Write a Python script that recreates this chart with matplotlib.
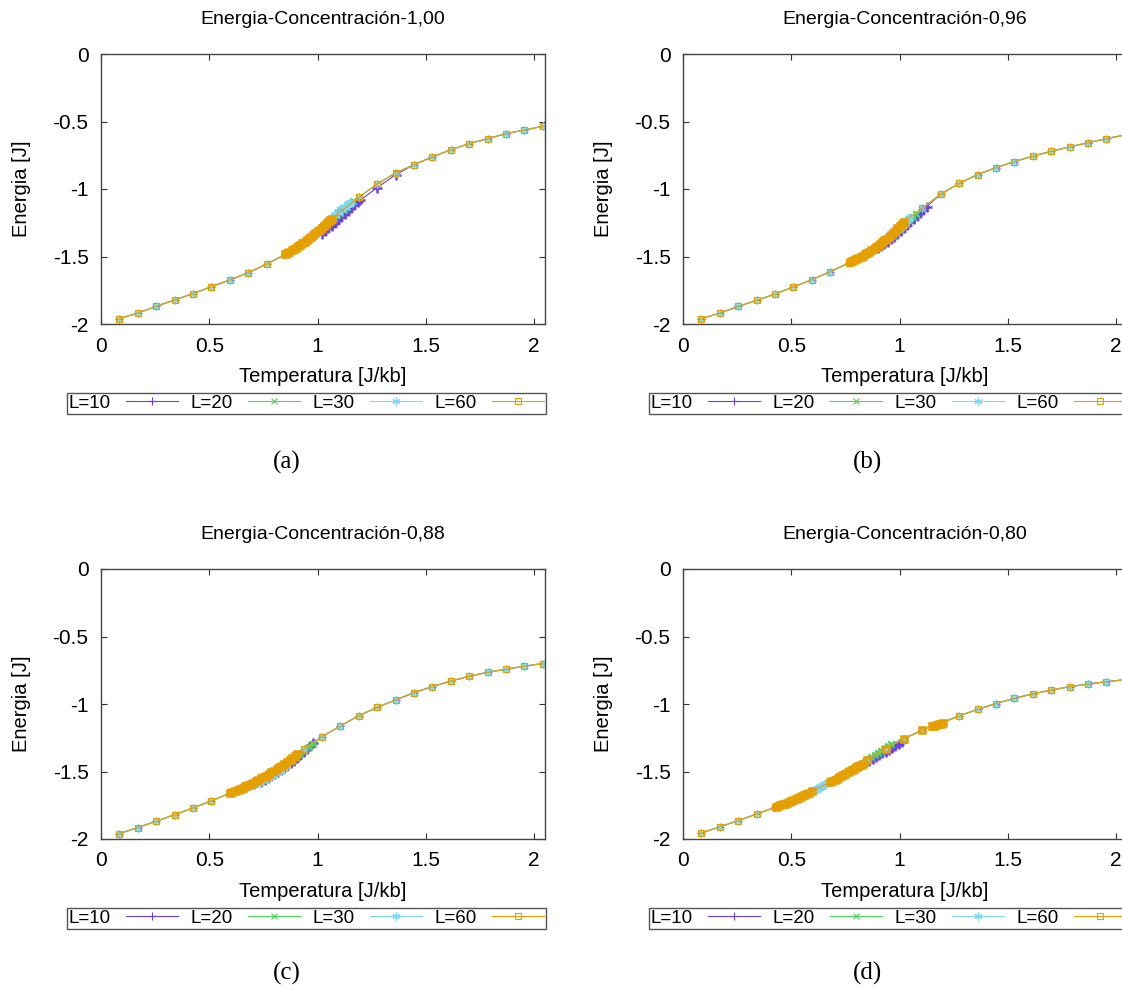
import matplotlib.pyplot as plt
import numpy as np

plt.rcParams['font.family'] = ['Liberation Sans', 'DejaVu Sans']
plt.rcParams['axes.unicode_minus'] = False

# coarse temperature grid shared by every run
temps = [0.085, 0.170, 0.255, 0.340, 0.425, 0.510, 0.595, 0.680, 0.765, 0.850, 0.935, 1.020,
         1.105, 1.190, 1.275, 1.360, 1.445, 1.530, 1.615, 1.700, 1.785, 1.870, 1.955, 2.040]

labels = ['L=10', 'L=20', 'L=30', 'L=60']
titles = ['Energia-Concentración-1,00', 'Energia-Concentración-0,96',
          'Energia-Concentración-0,88', 'Energia-Concentración-0,80']
captions = ['(a)', '(b)', '(c)', '(d)']
xticks = [0, 0.5, 1, 1.5, 2]
xtick_labels = ['0', '0.5', '1', '1.5', '2']
yticks = [0, -0.5, -1, -1.5, -2]
ytick_labels = ['0', '-0.5', '-1', '-1.5', '-2']

# ---- panel (a), concentration 1.00
ener_a = [-1.960, -1.919, -1.869, -1.822, -1.775, -1.723, -1.674, -1.620, -1.556, -1.486, -1.400, -1.300,
          -1.168, -1.062, -0.963, -0.881, -0.820, -0.763, -0.709, -0.664, -0.627, -0.590, -0.563, -0.536]
a_L10_t = [1.020, 1.035, 1.050, 1.065, 1.080, 1.095, 1.110, 1.125, 1.140, 1.155, 1.170, 1.185, 1.195, 1.275, 1.360]
a_L10_e = [-1.330, -1.312, -1.292, -1.271, -1.250, -1.229, -1.208, -1.187, -1.165, -1.143, -1.121, -1.099, -1.085, -0.990, -0.895]
a_L20_t = [1.000, 1.015, 1.030, 1.045, 1.060, 1.075, 1.090, 1.105, 1.120, 1.135, 1.150, 1.165]
a_L20_e = [-1.318, -1.298, -1.278, -1.258, -1.238, -1.217, -1.196, -1.175, -1.154, -1.133, -1.112, -1.092]
a_L30_t = [0.990, 1.005, 1.020, 1.035, 1.050, 1.065, 1.080, 1.095, 1.110, 1.125, 1.140, 1.150]
a_L30_e = [-1.320, -1.300, -1.279, -1.258, -1.236, -1.214, -1.192, -1.170, -1.149, -1.130, -1.112, -1.100]
a_L60_t = [0.850, 0.860, 0.870, 0.880, 0.890, 0.900, 0.910, 0.920, 0.930, 0.940, 0.950, 0.960, 0.970, 0.980,
           0.990, 1.000, 1.010, 1.020, 1.030, 1.040, 1.050, 1.058, 1.065]
a_L60_e = [-1.484, -1.475, -1.465, -1.455, -1.445, -1.435, -1.424, -1.413, -1.401, -1.390, -1.378, -1.366, -1.353, -1.340,
           -1.327, -1.314, -1.300, -1.287, -1.273, -1.259, -1.244, -1.233, -1.222]

# ---- panel (b), concentration 0.96
ener_b = [-1.960, -1.920, -1.870, -1.825, -1.778, -1.725, -1.672, -1.612, -1.548, -1.472, -1.378, -1.262,
          -1.142, -1.038, -0.958, -0.893, -0.842, -0.797, -0.757, -0.721, -0.688, -0.657, -0.627, -0.600]
b_L10_t = [0.900, 0.915, 0.930, 0.945, 0.960, 0.975, 0.990, 1.005, 1.020, 1.035, 1.050, 1.065, 1.080, 1.095, 1.110, 1.125]
b_L10_e = [-1.440, -1.424, -1.407, -1.390, -1.372, -1.353, -1.333, -1.312, -1.290, -1.268, -1.245, -1.222, -1.199, -1.176, -1.153, -1.131]
b_L20_t = [0.880, 0.895, 0.910, 0.925, 0.940, 0.955, 0.970, 0.985, 1.000, 1.015, 1.030, 1.045, 1.060, 1.075]
b_L20_e = [-1.446, -1.430, -1.413, -1.395, -1.377, -1.358, -1.338, -1.317, -1.296, -1.274, -1.251, -1.228, -1.205, -1.182]
b_L30_t = [0.850, 0.865, 0.880, 0.895, 0.910, 0.925, 0.940, 0.955, 0.970, 0.985, 1.000, 1.015, 1.030, 1.045]
b_L30_e = [-1.470, -1.456, -1.441, -1.425, -1.408, -1.390, -1.371, -1.351, -1.330, -1.308, -1.286, -1.263, -1.240, -1.217]
b_L60_t = [0.770, 0.780, 0.790, 0.800, 0.810, 0.820, 0.830, 0.840, 0.850, 0.860, 0.870, 0.880, 0.890, 0.900,
           0.910, 0.920, 0.930, 0.940, 0.950, 0.960, 0.970, 0.980, 0.990, 1.000, 1.010, 1.020]
b_L60_e = [-1.544, -1.536, -1.528, -1.520, -1.512, -1.503, -1.493, -1.484, -1.474, -1.464, -1.453, -1.442, -1.431, -1.419,
           -1.407, -1.394, -1.381, -1.367, -1.353, -1.339, -1.324, -1.308, -1.292, -1.276, -1.259, -1.242]

# ---- panel (c), concentration 0.88
ener_c = [-1.960, -1.915, -1.868, -1.820, -1.770, -1.718, -1.660, -1.598, -1.527, -1.440, -1.335, -1.242,
          -1.163, -1.086, -1.025, -0.970, -0.916, -0.871, -0.830, -0.795, -0.765, -0.742, -0.720, -0.700]
c_L10_t = [0.740, 0.755, 0.770, 0.785, 0.800, 0.815, 0.830, 0.845, 0.860, 0.875, 0.890, 0.905, 0.920, 0.935, 0.950, 0.965, 0.980]
c_L10_e = [-1.575, -1.562, -1.549, -1.535, -1.521, -1.506, -1.490, -1.473, -1.456, -1.438, -1.419, -1.399, -1.378, -1.356, -1.333, -1.310, -1.287]
c_L20_t = [0.700, 0.720, 0.740, 0.760, 0.780, 0.800, 0.820, 0.840, 0.860, 0.880, 0.900, 0.920, 0.940, 0.960, 0.980]
c_L20_e = [-1.585, -1.570, -1.554, -1.537, -1.520, -1.502, -1.483, -1.463, -1.442, -1.420, -1.397, -1.373, -1.348, -1.322, -1.296]
c_L30_t = [0.660, 0.675, 0.690, 0.705, 0.720, 0.735, 0.750, 0.765, 0.780, 0.795, 0.810, 0.825, 0.840, 0.855]
c_L30_e = [-1.628, -1.618, -1.608, -1.597, -1.586, -1.575, -1.563, -1.550, -1.537, -1.523, -1.508, -1.493, -1.477, -1.460]
c_L60_t = [0.595, 0.607, 0.619, 0.631, 0.643, 0.655, 0.667, 0.679, 0.691, 0.703, 0.715, 0.727, 0.739, 0.751,
           0.763, 0.775, 0.787, 0.799, 0.811, 0.823, 0.835, 0.847, 0.859, 0.871, 0.883, 0.895, 0.905]
c_L60_e = [-1.660, -1.652, -1.644, -1.636, -1.628, -1.619, -1.610, -1.601, -1.591, -1.582, -1.572, -1.562, -1.551, -1.541,
           -1.530, -1.518, -1.506, -1.494, -1.482, -1.469, -1.456, -1.443, -1.429, -1.415, -1.400, -1.385, -1.372]

# ---- panel (d), concentration 0.80
ener_d = [-1.955, -1.910, -1.864, -1.815, -1.765, -1.710, -1.645, -1.577, -1.500, -1.413, -1.330, -1.258,
          -1.193, -1.140, -1.088, -1.040, -0.997, -0.958, -0.925, -0.897, -0.872, -0.852, -0.835, -0.820]
d_L10_t = [0.800, 0.815, 0.830, 0.845, 0.860, 0.875, 0.890, 0.905, 0.920, 0.935, 0.950, 0.965, 0.980, 0.995, 1.010]
d_L10_e = [-1.470, -1.458, -1.446, -1.433, -1.420, -1.407, -1.394, -1.380, -1.366, -1.352, -1.338, -1.323, -1.308, -1.293, -1.278]
d_L20_t = [0.750, 0.765, 0.780, 0.795, 0.810, 0.825, 0.840, 0.855, 0.870, 0.885, 0.900, 0.915, 0.930, 0.945, 0.960]
d_L20_e = [-1.510, -1.497, -1.484, -1.470, -1.456, -1.441, -1.426, -1.410, -1.394, -1.378, -1.362, -1.346, -1.330, -1.314, -1.298]
d_L30_t = [0.500, 0.512, 0.524, 0.536, 0.548, 0.560, 0.572, 0.584, 0.596, 0.608, 0.620, 0.632, 0.644, 0.656]
d_L30_e = [-1.716, -1.708, -1.700, -1.692, -1.684, -1.675, -1.666, -1.657, -1.646, -1.636, -1.626, -1.615, -1.604, -1.593]
d_L60_t = [0.430, 0.440, 0.450, 0.460, 0.470, 0.480, 0.490, 0.500, 0.510, 0.520, 0.530, 0.540, 0.550, 0.560, 0.570,
           0.580, 0.595, 0.680, 0.690, 0.700, 0.710, 0.720, 0.730, 0.740, 0.750, 0.760, 0.770, 0.780, 0.790,
           0.800, 0.810, 0.820, 0.830, 0.850, 0.935, 1.020, 1.105, 1.150, 1.160, 1.170, 1.180, 1.190, 1.200]
d_L60_e = [-1.762, -1.756, -1.750, -1.744, -1.738, -1.731, -1.725, -1.718, -1.712, -1.705, -1.698, -1.690, -1.683, -1.675, -1.668,
           -1.660, -1.645, -1.578, -1.569, -1.561, -1.552, -1.543, -1.535, -1.526, -1.517, -1.507, -1.498, -1.489, -1.479,
           -1.470, -1.460, -1.451, -1.441, -1.413, -1.330, -1.258, -1.193, -1.165, -1.160, -1.155, -1.150, -1.145, -1.140]

colors = ['#6a3df0', '#4fd35a', '#7dd8f5', '#e69f00']
markers = ['+', 'x', (6, 2, 0), 's']
msizes = [6, 4.5, 6, 4.5]


def merge(coarse_e, dense_t, dense_e):
    # coarse points inside the densely sampled window are replaced by the dense run
    lo, hi = min(dense_t), max(dense_t)
    pts = [(t, e) for t, e in zip(temps, coarse_e) if t < lo or t > hi]
    pts += list(zip(dense_t, dense_e))
    pts.sort()
    return np.array(pts).T


panels = [
    (ener_a, [(a_L10_t, a_L10_e), (a_L20_t, a_L20_e), (a_L30_t, a_L30_e), (a_L60_t, a_L60_e)]),
    (ener_b, [(b_L10_t, b_L10_e), (b_L20_t, b_L20_e), (b_L30_t, b_L30_e), (b_L60_t, b_L60_e)]),
    (ener_c, [(c_L10_t, c_L10_e), (c_L20_t, c_L20_e), (c_L30_t, c_L30_e), (c_L60_t, c_L60_e)]),
    (ener_d, [(d_L10_t, d_L10_e), (d_L20_t, d_L20_e), (d_L30_t, d_L30_e), (d_L60_t, d_L60_e)]),
]

W, H = 1122, 990
fig = plt.figure(figsize=(W / 100, H / 100), dpi=100)

# axes boxes in pixels: left, top
boxes = [(101, 54), (683, 54), (101, 569), (683, 569)]
cap_pos = [(287, 462), (868, 462), (287, 973), (868, 973)]
aw, ah = 444, 270

for k, (coarse_e, dense) in enumerate(panels):
    left, top = boxes[k]
    ax = fig.add_axes([left / W, 1 - (top + ah) / H, aw / W, ah / H])
    for i, (dt, de) in enumerate(dense):
        x, y = merge(coarse_e, dt, de)
        ax.plot(x, y, color=colors[i], lw=0.8, marker=markers[i], ms=msizes[i],
                mew=0.8, fillstyle='none', label=labels[i])
        # the densely sampled runs pile up into a thick band
        ax.plot(dt, de, ls='none', color=colors[i], marker=markers[i],
                ms=msizes[i] + 0.5, mew=1.8, fillstyle='none')
    ax.set_xlim(0, 2.05)
    ax.set_ylim(-2, 0)
    ax.set_xticks(xticks, xtick_labels)
    ax.set_yticks(yticks, ytick_labels)
    ax.tick_params(direction='in', length=4, width=0.8, top=True, right=(k % 2 == 0),
                   labelsize=15, pad=9, colors='#333333', labelcolor='black')
    for sp in ax.spines.values():
        sp.set_color('#444444')
        sp.set_linewidth(1.0)
    ax.set_title(titles[k], fontsize=14, pad=21.5)
    ax.set_xlabel('Temperatura [J/kb]', fontsize=14.5)
    ax.set_ylabel('Energia [J]', fontsize=14.5)
    ax.xaxis.set_label_coords(0.5, -0.160)
    ax.yaxis.set_label_coords(-0.157, 0.5)
    leg = ax.legend(loc='lower left', bbox_to_anchor=(-0.077, -0.333, 1.079, 0.0815),
                    mode='expand', ncol=4, borderaxespad=0, markerfirst=False,
                    handlelength=2.8, handletextpad=0.8, columnspacing=0.8,
                    borderpad=0.1, fancybox=False, framealpha=1, fontsize=13.5)
    leg.get_frame().set_edgecolor('#555555')
    leg.get_frame().set_linewidth(1.0)
    cx, cy = cap_pos[k]
    fig.text(cx / W, 1 - cy / H, captions[k], ha='center', va='center',
             fontsize=18, family=['Liberation Serif', 'DejaVu Serif'])

fig.savefig('out.png', dpi=100)
